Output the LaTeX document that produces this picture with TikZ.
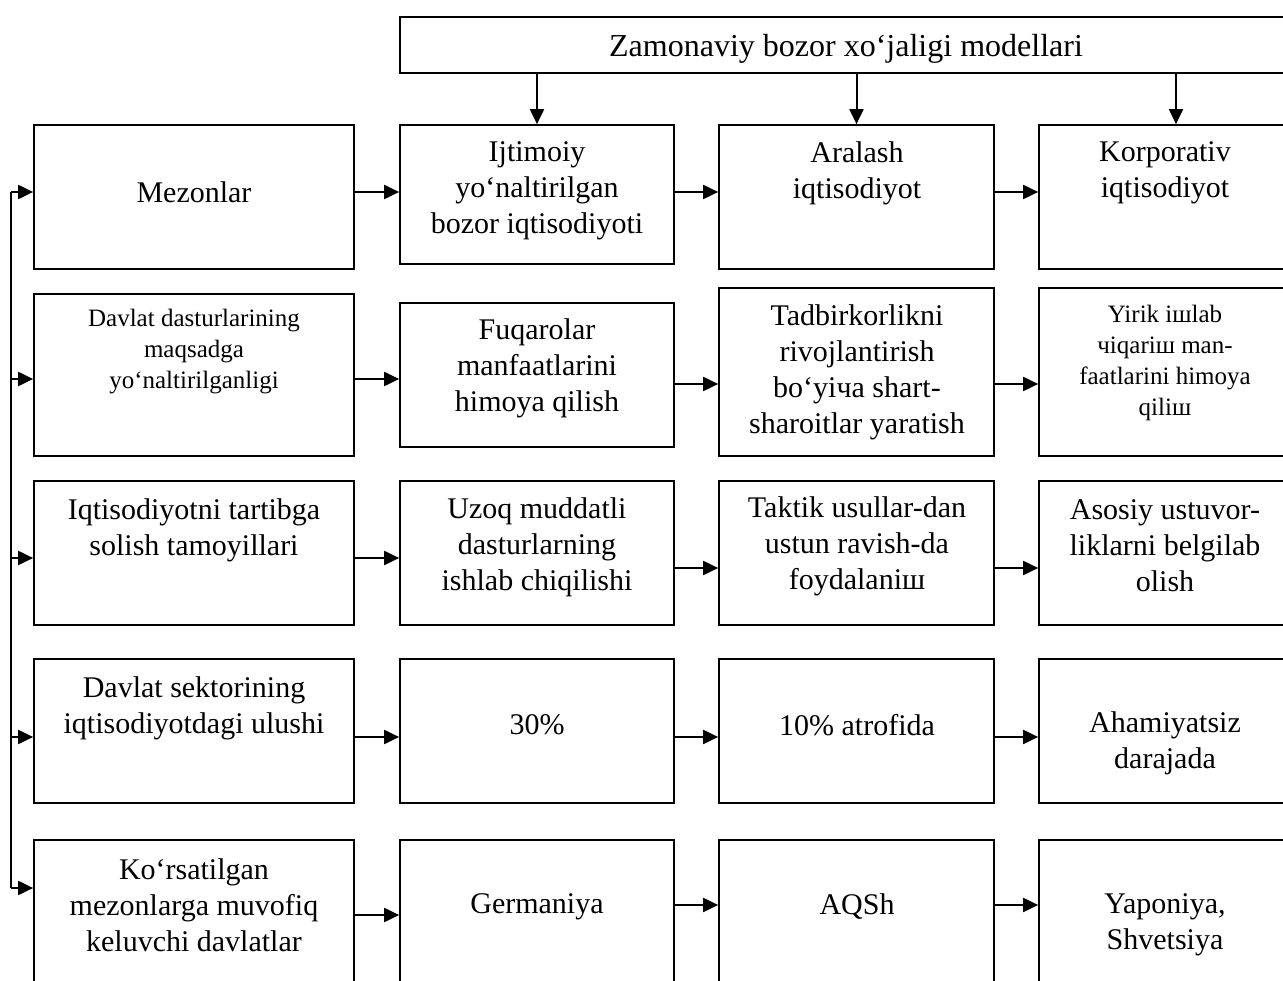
\documentclass[tikz,border=0pt]{standalone}
\usepackage{fontspec}
\setmainfont{Liberation Serif}
\usetikzlibrary{arrows.meta}
\newcommand\mkbox[5]{\node[boxst,minimum width={#4-#2},minimum height={#5-#3}] (#1) at ({(#2+#4)/2},{(#3+#5)/2}) {};}
\begin{document}
\begin{tikzpicture}[x=1pt,y=-1pt,
 boxst/.style={draw, line width=1.7pt, inner sep=0pt, rectangle},
 txt/.style={align=center, inner sep=0pt, font=\fontsize{30}{36}\selectfont},
 stxt/.style={align=center, inner sep=0pt, font=\fontsize{25}{31}\selectfont},
 arr/.style={line width=2pt, -{Triangle[length=15pt,width=14pt]}},
 ln/.style={line width=2pt}]
\useasboundingbox (0,0) rectangle (1283,981);
\clip (0,0) rectangle (1283,981);
\fill[white] (0,0) rectangle (1283,981);
% boxes
\mkbox{top}{400}{17}{1291}{73}
\mkbox{r1c0}{34}{125}{354}{269}
\mkbox{r1c1}{400}{125}{674}{264}
\mkbox{r1c2}{719}{125}{994}{269}
\mkbox{r1c3}{1039}{125}{1291}{269}
\mkbox{r2c0}{34}{294}{354}{456}
\mkbox{r2c1}{400}{303}{674}{447}
\mkbox{r2c2}{719}{288}{994}{456}
\mkbox{r2c3}{1039}{288}{1291}{456}
\mkbox{r3c0}{34}{481}{354}{625}
\mkbox{r3c1}{400}{481}{674}{625}
\mkbox{r3c2}{719}{481}{994}{625}
\mkbox{r3c3}{1039}{481}{1291}{625}
\mkbox{r4c0}{34}{659}{354}{803}
\mkbox{r4c1}{400}{659}{674}{803}
\mkbox{r4c2}{719}{659}{994}{803}
\mkbox{r4c3}{1039}{659}{1291}{803}
\mkbox{r5c0}{34}{840}{354}{986}
\mkbox{r5c1}{400}{840}{674}{986}
\mkbox{r5c2}{719}{840}{994}{986}
\mkbox{r5c3}{1039}{840}{1291}{986}
% texts
\node[txt, font=\fontsize{32}{38}\selectfont] (ttop) at (846,49) {Zamonaviy bozor xo‘jaligi modellari};
\node[txt] (t10) at (194,192) {Mezonlar};
\node[txt] (t11) at (537,191) {Ijtimoiy\\yo‘naltirilgan\\bozor iqtisodiyoti};
\node[txt] (t12) at (857,173) {Aralash\\iqtisodiyot};
\node[txt] (t13) at (1165,173) {Korporativ\\iqtisodiyot};
\node[stxt] (t20) at (194,352) {Davlat dasturlarining\\maqsadga\\yo‘naltirilganligi};
\node[txt] (t21) at (537,368) {Fuqarolar\\manfaatlarini\\himoya qilish};
\node[txt] (t22) at (857,372) {Tadbirkorlikni\\rivojlantirish\\bo‘yiча shart-\\sharoitlar yaratish};
\node[stxt] (t23) at (1165,363) {Yirik iшlab\\чiqariш man-\\faatlarini himoya\\qiliш};
\node[txt] (t30) at (194,530) {Iqtisodiyotni tartibga\\solish tamoyillari};
\node[txt] (t31) at (537,547) {Uzoq muddatli\\dasturlarning\\ishlab chiqilishi};
\node[txt] (t32) at (857,546) {Taktik usullar-dan\\ustun ravish-da\\foydalaniш};
\node[txt] (t33) at (1165,546) {Asosiy ustuvor-\\liklarni belgilab\\olish};
\node[txt] (t40) at (194,708) {Davlat sektorining\\iqtisodiyotdagi ulushi};
\node[txt] (t41) at (537,725) {30\%};
\node[txt] (t42) at (857,725) {10\% atrofida};
\node[txt] (t43) at (1165,743) {Ahamiyatsiz\\darajada};
\node[txt] (t50) at (194,905) {Ko‘rsatilgan\\mezonlarga muvofiq\\keluvchi davlatlar};
\node[txt] (t51) at (537,907) {Germaniya};
\node[txt] (t52) at (857,907) {AQSh};
\node[txt] (t53) at (1165,925) {Yaponiya,\\Shvetsiya};
% top arrows
\draw[arr] (top.south -| r1c1.north) -- (r1c1.north);
\draw[arr] (top.south -| r1c2.north) -- (r1c2.north);
\draw[arr] (top.south -| 1176,0) -- (r1c3.north -| 1176,0);
% left bus
\coordinate (b1) at (11,192);
\coordinate (b2) at (11,379);
\coordinate (b3) at (11,558);
\coordinate (b4) at (11,737);
\coordinate (b5) at (11,888);
\draw[ln] (b1) -- (b5);
\draw[arr] (b1) -- (r1c0.west |- b1);
\draw[arr] (b2) -- (r2c0.west |- b2);
\draw[arr] (b3) -- (r3c0.west |- b3);
\draw[arr] (b4) -- (r4c0.west |- b4);
\draw[arr] (b5) -- (r5c0.west |- b5);
% row arrows
\draw[arr] (r1c0.east |- 0,192) -- (r1c1.west |- 0,192);
\draw[arr] (r1c1.east |- 0,192) -- (r1c2.west |- 0,192);
\draw[arr] (r1c2.east |- 0,192) -- (r1c3.west |- 0,192);
\draw[arr] (r2c0.east |- 0,379) -- (r2c1.west |- 0,379);
\draw[arr] (r2c1.east |- 0,384) -- (r2c2.west |- 0,384);
\draw[arr] (r2c2.east |- 0,384) -- (r2c3.west |- 0,384);
\draw[arr] (r3c0.east |- 0,558) -- (r3c1.west |- 0,558);
\draw[arr] (r3c1.east |- 0,568) -- (r3c2.west |- 0,568);
\draw[arr] (r3c2.east |- 0,568) -- (r3c3.west |- 0,568);
\draw[arr] (r4c0.east |- 0,737) -- (r4c1.west |- 0,737);
\draw[arr] (r4c1.east |- 0,737) -- (r4c2.west |- 0,737);
\draw[arr] (r4c2.east |- 0,737) -- (r4c3.west |- 0,737);
\draw[arr] (r5c0.east |- 0,915) -- (r5c1.west |- 0,915);
\draw[arr] (r5c1.east |- 0,905) -- (r5c2.west |- 0,905);
\draw[arr] (r5c2.east |- 0,905) -- (r5c3.west |- 0,905);
\end{tikzpicture}
\end{document}
